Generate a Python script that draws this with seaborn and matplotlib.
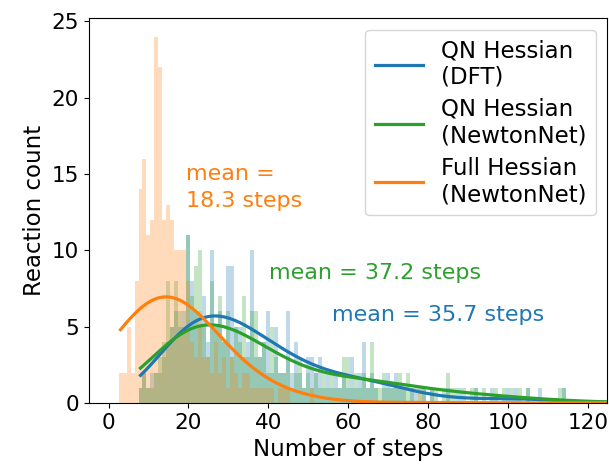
"""Step-count histograms for the three Hessian variants."""

import matplotlib
matplotlib.use("Agg")
import matplotlib.pyplot as plt
import numpy as np
import pandas as pd
import seaborn as sns

# counts per integer step count
qn_dft_steps = list(range(8, 80)) + [81, 85, 88, 92, 96, 100, 102, 105, 108, 114, 135]
qn_dft_counts = [
    1, 2, 1, 2, 2, 2, 3, 4, 5, 6, 5, 6,
    11, 8, 6, 5, 7, 4, 10, 5, 6, 4,
    9, 9, 5, 5, 3, 4, 10, 3, 3, 4,
    6, 2, 5, 2, 2, 6, 2, 4, 2, 1,
    3, 3, 2, 3, 1, 2, 1, 2, 1, 2,
    1, 3, 1, 2, 4, 1, 2, 1, 0, 1,
    2, 1, 2, 1, 1, 0, 1, 1, 0, 1,
    1, 1, 1, 1, 1, 1, 1, 1, 1, 1, 1,
]

qn_nn_steps = list(range(8, 115)) + [135]
qn_nn_counts = [
    1, 2, 1, 1, 2, 3, 4, 8, 5, 8, 6, 5,
    11, 7, 9, 10, 5, 3, 8, 5, 7, 4,
    6, 3, 5, 4, 7, 3, 6, 6, 3, 4,
    2, 5, 3, 2, 2, 3, 1, 2, 3, 1,
    2, 1, 2, 1, 2, 1, 2, 1, 1, 3,
    3, 1, 2, 1, 2, 1, 4, 1, 1, 2,
    1, 1, 1, 2, 1, 2, 1, 0, 1, 1,
    0, 1, 1, 0, 1, 2, 1, 1, 0, 1,
    0, 1, 1, 0, 1, 0, 0, 1, 0, 1,
    0, 1, 0, 1, 0, 1, 0, 0, 0, 0,
    0, 0, 0, 1, 1,
    1,
]

full_nn_steps = list(range(3, 46)) + [51, 78, 130]
full_nn_counts = [
    2, 2, 5, 2, 8, 14, 16, 11, 12, 24, 22, 12, 13,
    12, 10, 10, 10, 8, 4, 3, 6, 3, 3, 2, 4, 2, 3,
    1, 3, 2, 1, 2, 2, 1, 1, 1, 1, 1, 1, 0, 1, 1, 1,
    1, 1, 1,
]

labels = ["QN Hessian\n(DFT)", "QN Hessian\n(NewtonNet)", "Full Hessian\n(NewtonNet)"]
colors = ["#1f77b4", "#2ca02c", "#ff7f0e"]
smoothing = [1.15, 1.3, 3.0]
mean_texts = ["mean = 35.7 steps", "mean = 37.2 steps", "mean =\n18.3 steps"]

series = [
    (qn_dft_steps, qn_dft_counts),
    (qn_nn_steps, qn_nn_counts),
    (full_nn_steps, full_nn_counts),
]

fig = plt.figure(figsize=(6.09, 4.72), dpi=100)
ax = fig.add_axes([0.146, 0.146, 0.851, 0.815])

for (steps, counts), label, color, bw in zip(series, labels, colors, smoothing):
    values = np.repeat(steps, counts)
    df = pd.DataFrame({"steps": values})
    sns.histplot(
        data=df, x="steps", discrete=True, kde=True, ax=ax,
        color=color, alpha=0.28, linewidth=0, label=label,
        kde_kws={"bw_adjust": bw},
        line_kws={"linewidth": 2.3},
    )

ax.set_xlim(-4.9, 124.7)
ax.set_ylim(0, 25.2)
ax.set_xticks([0, 20, 40, 60, 80, 100, 120])
ax.set_yticks([0, 5, 10, 15, 20, 25])
ax.tick_params(labelsize=15.5)
ax.set_xlabel("Number of steps", fontsize=16.5)
ax.set_ylabel("Reaction count", fontsize=16.5)

ax.text(56, 5.8, mean_texts[0], color=colors[0], fontsize=16, va="center")
ax.text(40.2, 8.5, mean_texts[1], color=colors[1], fontsize=16, va="center")
ax.text(19.5, 14.1, mean_texts[2], color=colors[2], fontsize=16, va="center",
        linespacing=1.45)

ax.legend(handles=ax.lines[:3], labels=labels, loc="upper right", fontsize=16.5,
          handlelength=2.1, handletextpad=0.8, borderpad=0.4, labelspacing=0.4)

fig.savefig("out.png", dpi=100)
